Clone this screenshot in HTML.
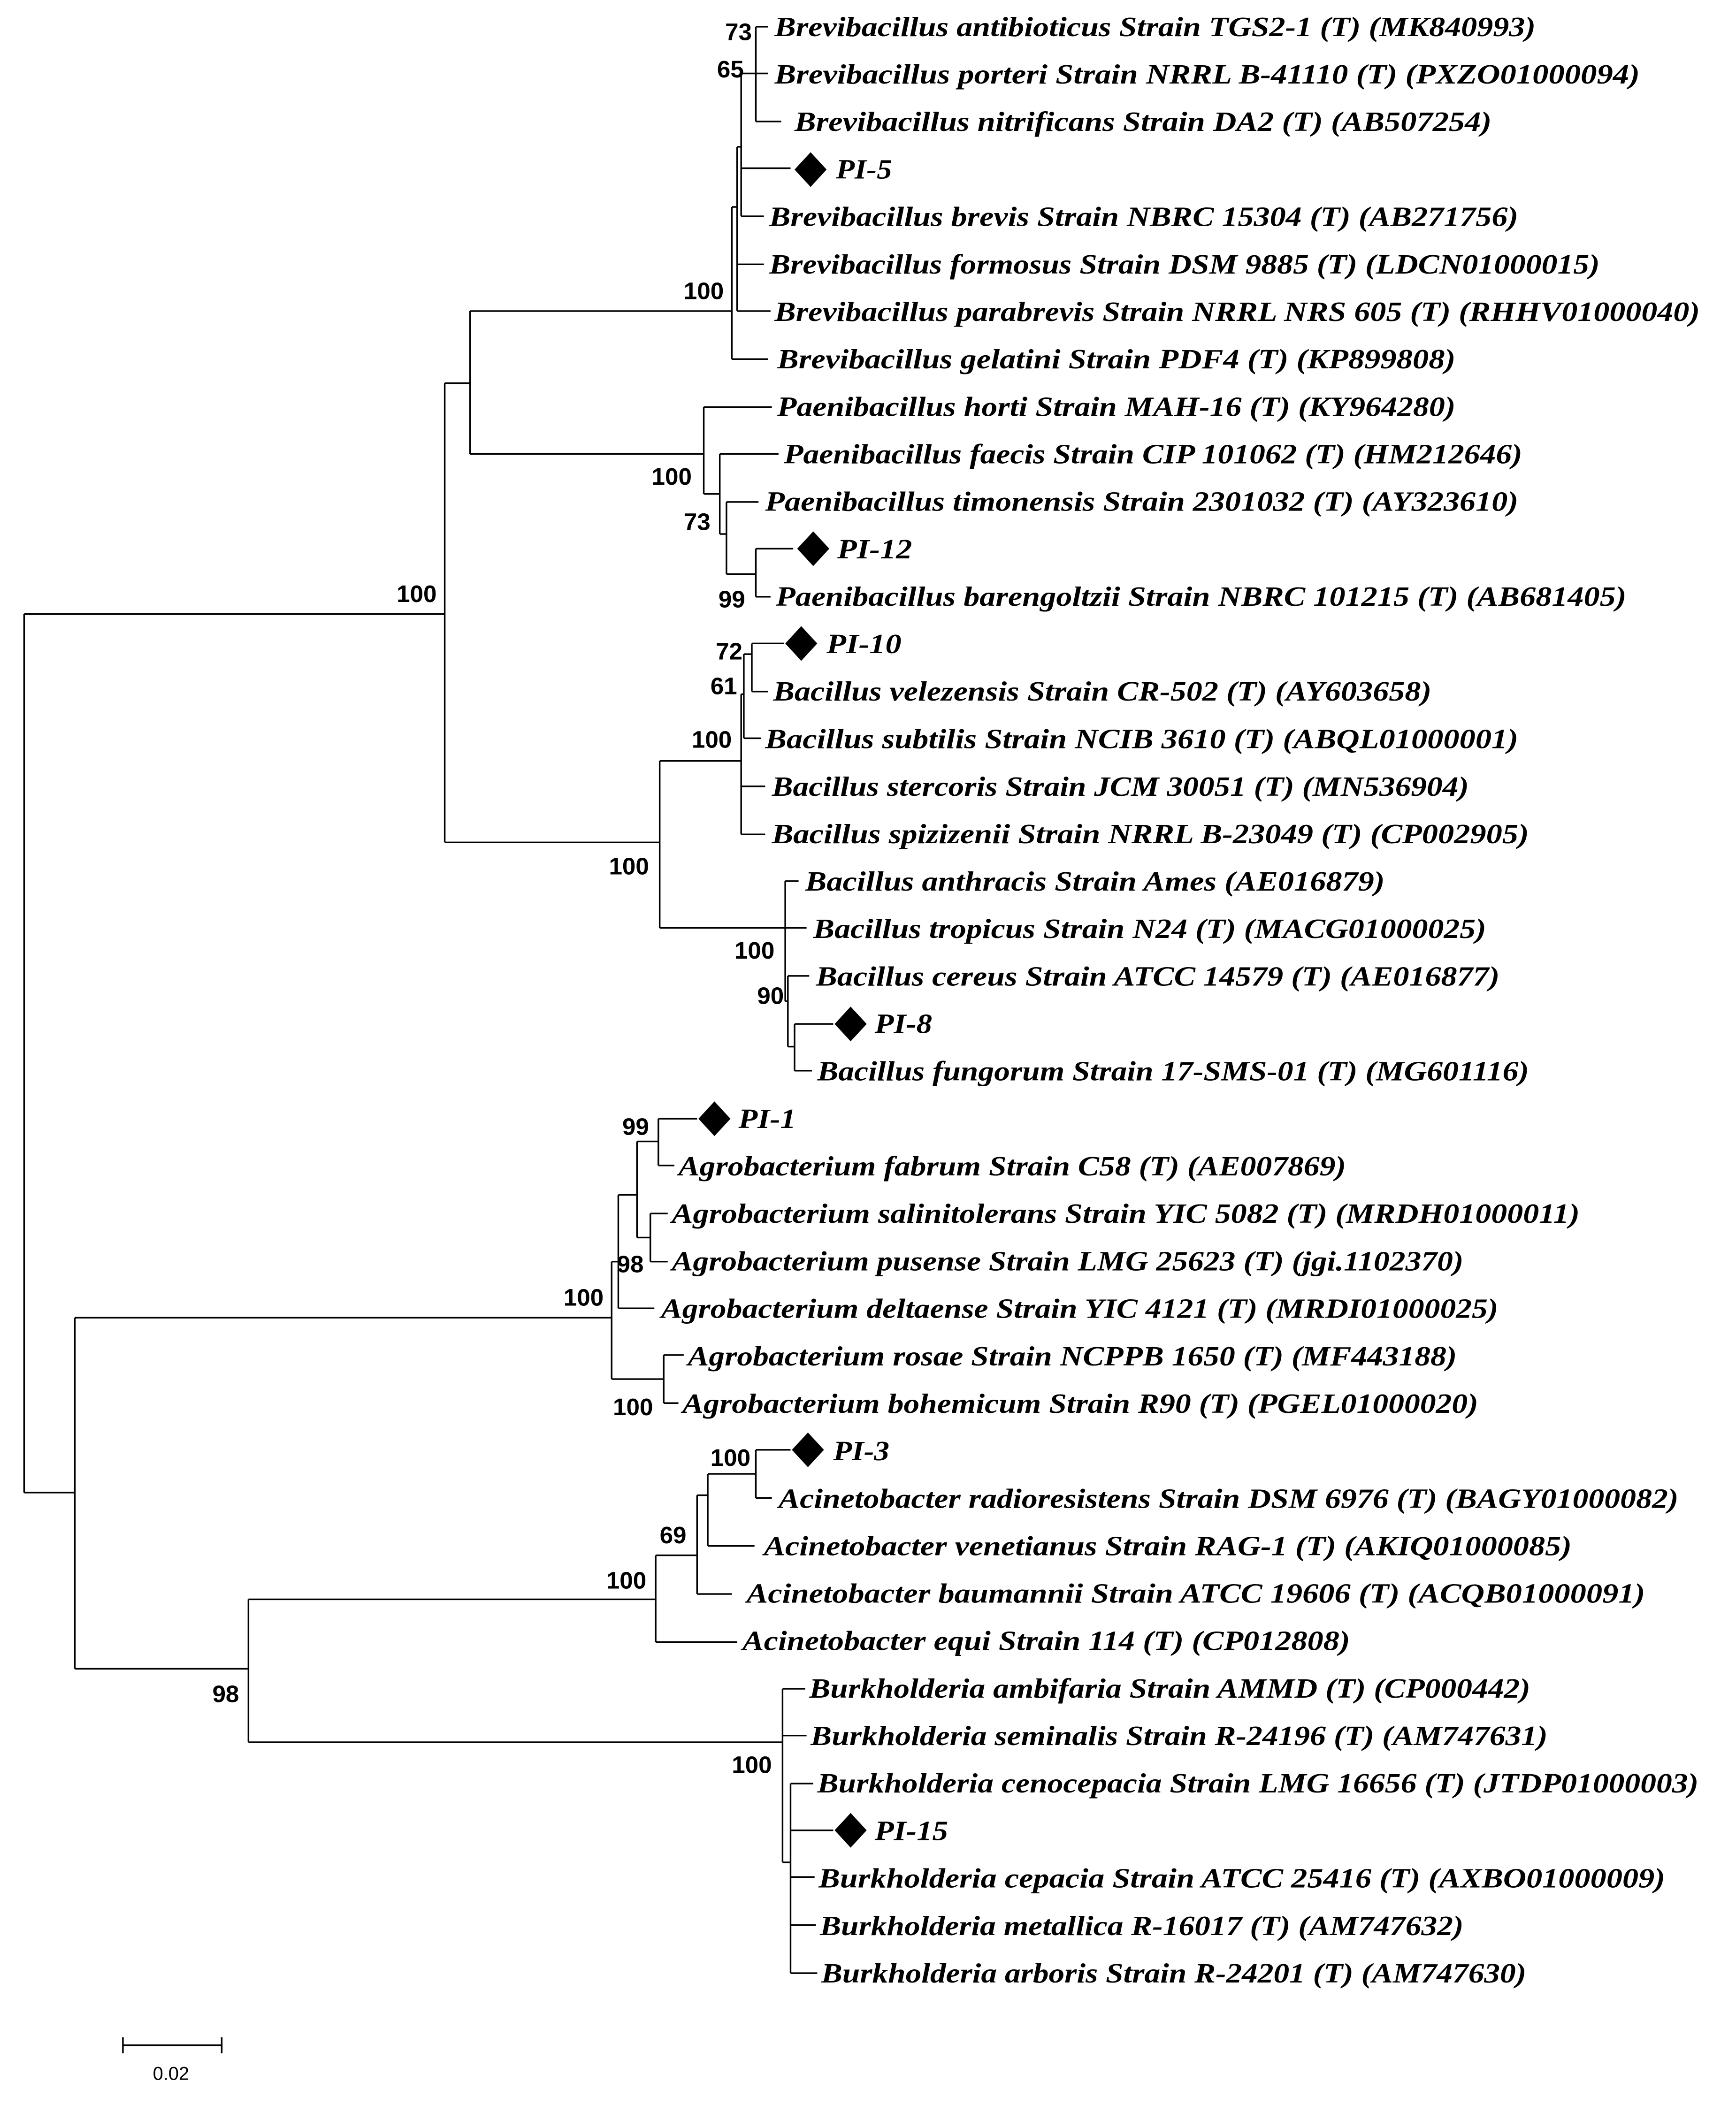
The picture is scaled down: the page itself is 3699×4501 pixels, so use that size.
<!DOCTYPE html>
<html><head><meta charset="utf-8"><style>
html,body{margin:0;padding:0;background:#fff;}
svg{display:block;}
.t{font-family:"Liberation Serif",serif;font-weight:bold;font-style:italic;font-size:21px;fill:#000;}
.b{font-family:"Liberation Sans",sans-serif;font-weight:bold;font-size:18px;fill:#000;text-anchor:end;}
</style></head><body>
<svg width="3699" height="4501" viewBox="0 0 1300 1582" xmlns="http://www.w3.org/2000/svg">
<rect width="1300" height="1582" fill="#fff"/>
<g fill="none" stroke="#000" stroke-width="1.2">
<path d="M18 460 V1118 M18 460 H333 M333 287 V631 M333 287 H352 M352 233 V340 M352 233 H548 M548 155 V269 M548 269 H575 M548 155 H552 M552 110 V233 M552 198 H572 M552 233 H577 M552 110 H555 M555 55 V162 M555 55 H566 M566 20 V91 M566 20 H575 M566 55 H575 M566 91 H585 M555 126 H592 M555 162 H572"/>
<path d="M352 340 H527 M527 305 V370 M527 305 H578 M527 370 H539 M539 340 V400 M539 340 H583 M539 400 H544 M544 376 V430 M544 376 H568 M544 430 H566 M566 411 V447 M566 411 H594 M566 447 H577"/>
<path d="M333 631 H494 M494 570 V695 M494 570 H555 M555 520 V625 M555 625 H573 M555 589 H573 M555 520 H557 M557 490 V553 M557 553 H570 M557 490 H563 M563 482 V518 M563 482 H587 M563 518 H575"/>
<path d="M494 695 H588 M588 660 V750 M588 660 H598 M588 695 H604 M588 750 H590 M590 731 V784 M590 731 H606 M590 784 H595 M595 767 V802 M595 767 H624 M595 802 H608"/>
<path d="M18 1118 H56 M56 987 V1250 M56 987 H458 M458 945 V1033 M458 945 H463 M463 895 V980 M463 980 H490 M463 895 H477 M477 855 V927 M477 855 H493 M493 838 V873 M493 838 H522 M493 873 H505 M477 927 H487 M487 909 V945 M487 909 H500 M487 945 H500 M458 1033 H497 M497 1015 V1051 M497 1015 H512 M497 1051 H508"/>
<path d="M56 1250 H186 M186 1198 V1305 M186 1198 H491 M491 1165 V1230 M491 1230 H552 M491 1165 H522 M522 1120 V1194 M522 1194 H548 M522 1120 H530 M530 1104 V1158 M530 1158 H565 M530 1104 H566 M566 1086 V1122 M566 1086 H592 M566 1122 H578"/>
<path d="M186 1305 H586 M586 1265 V1395 M586 1265 H603 M586 1300 H604 M586 1395 H592 M592 1336 V1478 M592 1336 H609 M592 1371 H624 M592 1406 H610 M592 1442 H611 M592 1478 H612"/>
<path d="M92 1532 H166 M92 1526 V1538 M166 1526 V1538"/>
</g>
<g fill="#000">
<polygon points="607,114 619,127 607,140 595,127"/>
<polygon points="609,398 621,411 609,424 597,411"/>
<polygon points="600,469 612,482 600,495 588,482"/>
<polygon points="637,754 649,767 637,780 625,767"/>
<polygon points="535,825 547,838 535,851 523,838"/>
<polygon points="605,1073 617,1086 605,1099 593,1086"/>
<polygon points="637,1358 649,1371 637,1384 625,1371"/>
</g>
<g class="t" dominant-baseline="central">
<text x="580" y="20" textLength="570" lengthAdjust="spacingAndGlyphs">Brevibacillus antibioticus Strain TGS2-1 (T) (MK840993)</text>
<text x="580" y="55.6" textLength="648" lengthAdjust="spacingAndGlyphs">Brevibacillus porteri Strain NRRL B-41110 (T) (PXZO01000094)</text>
<text x="595" y="91.1" textLength="522" lengthAdjust="spacingAndGlyphs">Brevibacillus nitrificans Strain DA2 (T) (AB507254)</text>
<text x="626" y="126.7" textLength="42" lengthAdjust="spacingAndGlyphs">PI-5</text>
<text x="576" y="162.2" textLength="561" lengthAdjust="spacingAndGlyphs">Brevibacillus brevis Strain NBRC 15304 (T) (AB271756)</text>
<text x="576" y="197.8" textLength="622" lengthAdjust="spacingAndGlyphs">Brevibacillus formosus Strain DSM 9885 (T) (LDCN01000015)</text>
<text x="580" y="233.4" textLength="693" lengthAdjust="spacingAndGlyphs">Brevibacillus parabrevis Strain NRRL NRS 605 (T) (RHHV01000040)</text>
<text x="582" y="268.9" textLength="508" lengthAdjust="spacingAndGlyphs">Brevibacillus gelatini Strain PDF4 (T) (KP899808)</text>
<text x="582" y="304.5" textLength="508" lengthAdjust="spacingAndGlyphs">Paenibacillus horti Strain MAH-16 (T) (KY964280)</text>
<text x="587" y="340" textLength="553" lengthAdjust="spacingAndGlyphs">Paenibacillus faecis Strain CIP 101062 (T) (HM212646)</text>
<text x="573" y="375.6" textLength="564" lengthAdjust="spacingAndGlyphs">Paenibacillus timonensis Strain 2301032 (T) (AY323610)</text>
<text x="627" y="411.2" textLength="56" lengthAdjust="spacingAndGlyphs">PI-12</text>
<text x="581" y="446.7" textLength="637" lengthAdjust="spacingAndGlyphs">Paenibacillus barengoltzii Strain NBRC 101215 (T) (AB681405)</text>
<text x="619" y="482.3" textLength="56" lengthAdjust="spacingAndGlyphs">PI-10</text>
<text x="579" y="517.8" textLength="493" lengthAdjust="spacingAndGlyphs">Bacillus velezensis Strain CR-502 (T) (AY603658)</text>
<text x="573" y="553.4" textLength="564" lengthAdjust="spacingAndGlyphs">Bacillus subtilis Strain NCIB 3610 (T) (ABQL01000001)</text>
<text x="578" y="589" textLength="522" lengthAdjust="spacingAndGlyphs">Bacillus stercoris Strain JCM 30051 (T) (MN536904)</text>
<text x="578" y="624.5" textLength="567" lengthAdjust="spacingAndGlyphs">Bacillus spizizenii Strain NRRL B-23049 (T) (CP002905)</text>
<text x="603" y="660.1" textLength="434" lengthAdjust="spacingAndGlyphs">Bacillus anthracis Strain Ames (AE016879)</text>
<text x="609" y="695.6" textLength="504" lengthAdjust="spacingAndGlyphs">Bacillus tropicus Strain N24 (T) (MACG01000025)</text>
<text x="611" y="731.2" textLength="512" lengthAdjust="spacingAndGlyphs">Bacillus cereus Strain ATCC 14579 (T) (AE016877)</text>
<text x="655" y="766.8" textLength="43" lengthAdjust="spacingAndGlyphs">PI-8</text>
<text x="612" y="802.3" textLength="533" lengthAdjust="spacingAndGlyphs">Bacillus fungorum Strain 17-SMS-01 (T) (MG601116)</text>
<text x="553" y="837.9" textLength="43" lengthAdjust="spacingAndGlyphs">PI-1</text>
<text x="508" y="873.4" textLength="500" lengthAdjust="spacingAndGlyphs">Agrobacterium fabrum Strain C58 (T) (AE007869)</text>
<text x="503" y="909" textLength="680" lengthAdjust="spacingAndGlyphs">Agrobacterium salinitolerans Strain YIC 5082 (T) (MRDH01000011)</text>
<text x="503" y="944.6" textLength="593" lengthAdjust="spacingAndGlyphs">Agrobacterium pusense Strain LMG 25623 (T) (jgi.1102370)</text>
<text x="495" y="980.1" textLength="627" lengthAdjust="spacingAndGlyphs">Agrobacterium deltaense Strain YIC 4121 (T) (MRDI01000025)</text>
<text x="515" y="1015.7" textLength="576" lengthAdjust="spacingAndGlyphs">Agrobacterium rosae Strain NCPPB 1650 (T) (MF443188)</text>
<text x="511" y="1051.2" textLength="596" lengthAdjust="spacingAndGlyphs">Agrobacterium bohemicum Strain R90 (T) (PGEL01000020)</text>
<text x="624" y="1086.8" textLength="42" lengthAdjust="spacingAndGlyphs">PI-3</text>
<text x="583" y="1122.4" textLength="674" lengthAdjust="spacingAndGlyphs">Acinetobacter radioresistens Strain DSM 6976 (T) (BAGY01000082)</text>
<text x="572" y="1157.9" textLength="605" lengthAdjust="spacingAndGlyphs">Acinetobacter venetianus Strain RAG-1 (T) (AKIQ01000085)</text>
<text x="559" y="1193.5" textLength="673" lengthAdjust="spacingAndGlyphs">Acinetobacter baumannii Strain ATCC 19606 (T) (ACQB01000091)</text>
<text x="556" y="1229" textLength="455" lengthAdjust="spacingAndGlyphs">Acinetobacter equi Strain 114 (T) (CP012808)</text>
<text x="606" y="1264.6" textLength="540" lengthAdjust="spacingAndGlyphs">Burkholderia ambifaria Strain AMMD (T) (CP000442)</text>
<text x="607" y="1300.2" textLength="552" lengthAdjust="spacingAndGlyphs">Burkholderia seminalis Strain R-24196 (T) (AM747631)</text>
<text x="612" y="1335.7" textLength="660" lengthAdjust="spacingAndGlyphs">Burkholderia cenocepacia Strain LMG 16656 (T) (JTDP01000003)</text>
<text x="655" y="1371.3" textLength="55" lengthAdjust="spacingAndGlyphs">PI-15</text>
<text x="613" y="1406.8" textLength="634" lengthAdjust="spacingAndGlyphs">Burkholderia cepacia Strain ATCC 25416 (T) (AXBO01000009)</text>
<text x="614" y="1442.4" textLength="482" lengthAdjust="spacingAndGlyphs">Burkholderia metallica R-16017 (T) (AM747632)</text>
<text x="615" y="1478" textLength="528" lengthAdjust="spacingAndGlyphs">Burkholderia arboris Strain R-24201 (T) (AM747630)</text>
</g>
<g class="b">
<text x="563" y="30">73</text>
<text x="557" y="58">65</text>
<text x="542" y="224">100</text>
<text x="518" y="363">100</text>
<text x="532" y="397">73</text>
<text x="558" y="455">99</text>
<text x="327" y="451">100</text>
<text x="556" y="494">72</text>
<text x="552" y="520">61</text>
<text x="548" y="560">100</text>
<text x="486" y="655">100</text>
<text x="580" y="718">100</text>
<text x="587" y="752">90</text>
<text x="486" y="850">99</text>
<text x="482" y="953">98</text>
<text x="452" y="978">100</text>
<text x="489" y="1060">100</text>
<text x="562" y="1098">100</text>
<text x="514" y="1156">69</text>
<text x="484" y="1190">100</text>
<text x="179" y="1275">98</text>
<text x="578" y="1328">100</text>
</g>
<text x="128" y="1558" font-family="Liberation Sans, sans-serif" font-size="14" text-anchor="middle">0.02</text>
</svg>
</body></html>
